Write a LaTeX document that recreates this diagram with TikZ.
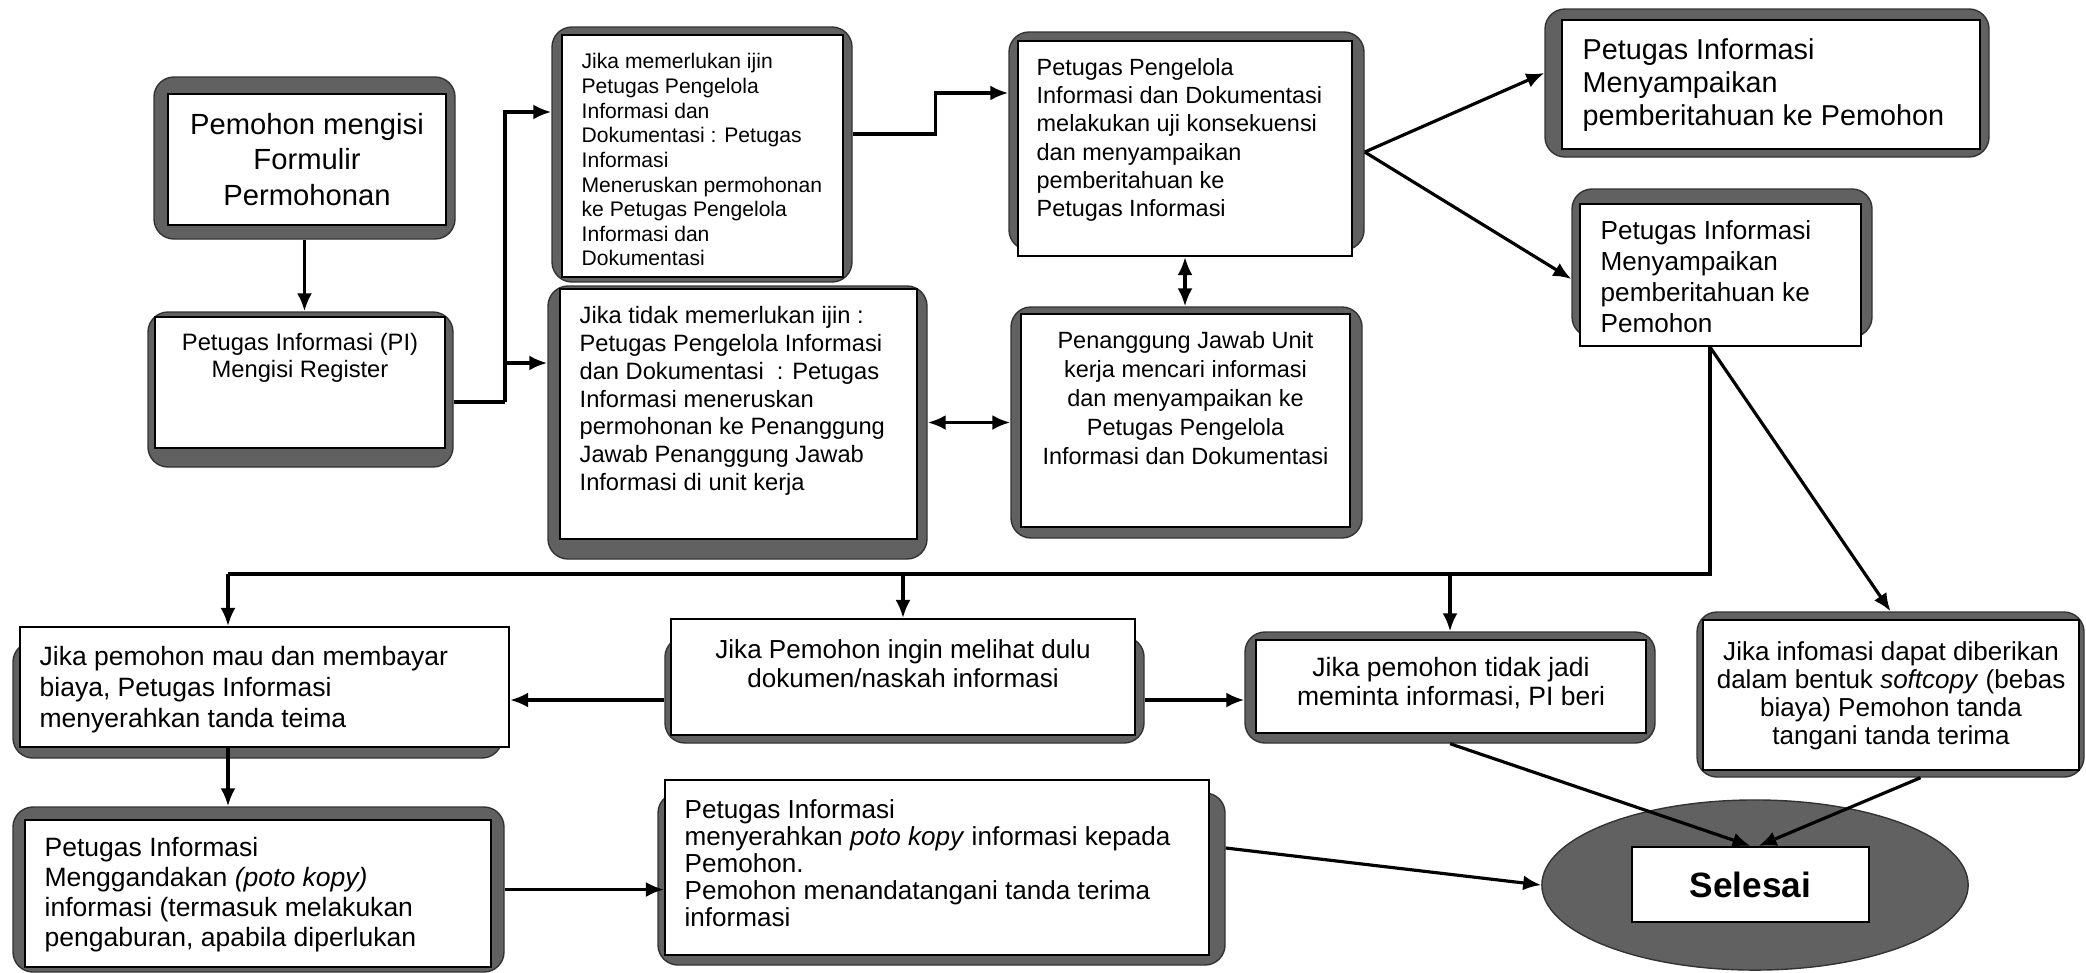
\documentclass[tikz,border=0pt]{standalone}
\usepackage{fontspec}
\setmainfont{Liberation Sans}
\usetikzlibrary{arrows.meta,fit,shapes.geometric,calc}
\tikzset{
	frm/.style={fill=black!62, draw=black!80, rounded corners=2mm, inner sep=0pt},
	wbox/.style={fill=white, draw=black, line width=0.6pt, inner sep=0pt},
	txt/.style={inner sep=0pt, align=center},
	fs/.style 2 args={font=\fontsize{#1}{#2}\selectfont},
	line/.style={line width=0.9pt},
	arr/.style={line, -{Latex[length=1.8mm,width=1.5mm]}},
	dbl/.style={line, {Latex[length=1.8mm,width=1.5mm]}-{Latex[length=1.8mm,width=1.5mm]}}
}

\begin{document}
\begin{tikzpicture}[x=0.01cm, y=-0.01cm]
		%%%%% START %%%%%
		\useasboundingbox (0,0) rectangle (2086,972);
		
		% dark frames
		\node[frm, fit={(154,77) (455,239)}] (formF) {};
		\node[frm, fit={(148,312) (453,467)}] (regF) {};
		\node[frm, fit={(552,27) (852,282)}] (ijinF) {};
		\node[frm, fit={(548,286) (927,559)}] (tanpaF) {};
		\node[frm, fit={(1009,32) (1364,250)}] (ujiF) {};
		\node[frm, fit={(1011,307) (1362,538)}] (unitF) {};
		\node[frm, fit={(1545,9) (1989,157)}] (infoaF) {};
		\node[frm, fit={(1572,189) (1872,337)}] (infobF) {};
		\node[frm, fit={(13,642) (502,758)}] (bayarF) {};
		\node[frm, fit={(665,637) (1144,743)}] (lihatF) {};
		\node[frm, fit={(1245,632) (1655,743)}] (batalF) {};
		\node[frm, fit={(1697,612) (2084,777)}] (softF) {};
		\node[frm, fit={(13,807) (504,972)}] (gandaF) {};
		\node[frm, fit={(658,793) (1225,965)}] (serahF) {};
		\node[frm, ellipse, minimum width=4.26cm, minimum height=1.7cm] (selesaiE) at (1755,885) {};
		
		% white boxes
		\node[wbox, fit={(168,94) (446,225)}] (form) {};
		\node[wbox, fit={(155,317) (445,448)}] (reg) {};
		\node[wbox, fit={(562,35) (843,277)}] (ijin) {};
		\node[wbox, fit={(560,289) (917,539)}] (tanpa) {};
		\node[wbox, fit={(1018,41) (1352,256)}] (uji) {};
		\node[wbox, fit={(1021,314) (1350,527)}] (unit) {};
		\node[wbox, fit={(1562,20) (1980,149)}] (infoa) {};
		\node[wbox, fit={(1580,204) (1861,346)}] (infob) {};
		\node[wbox, fit={(20,627) (509,747)}] (bayar) {};
		\node[wbox, fit={(671,619) (1135,735)}] (lihat) {};
		\node[wbox, fit={(1256,640) (1646,733)}] (batal) {};
		\node[wbox, fit={(1703,620) (2079,770)}] (soft) {};
		\node[wbox, fit={(25,820) (491,967)}] (ganda) {};
		\node[wbox, fit={(665,780) (1209,955)}] (serah) {};
		\node[wbox, fit={(1632,847) (1869,922)}] (selesai) {};
		
		% texts
		\node[txt, fs={8.3}{10}] (formT) at (form) {Pemohon mengisi\\Formulir\\Permohonan};
		\node[txt, fs={6.75}{7.7}, anchor=north] (regT) at ([yshift=-1.7mm]reg.north) {Petugas Informasi (PI)\\Mengisi Register};
		\node[txt, fs={6}{7}, align=left, anchor=north west] (ijinT) at ([shift={(2mm,-1.9mm)}]ijin.north west) {Jika memerlukan ijin\\Petugas Pengelola\\Informasi dan\\Dokumentasi : Petugas\\Informasi\\Meneruskan permohonan\\ke Petugas Pengelola\\Informasi dan\\Dokumentasi};
		\node[txt, fs={6.73}{7.9}, align=left, anchor=north west] (tanpaT) at ([shift={(2mm,-1.8mm)}]tanpa.north west) {Jika tidak memerlukan ijin :\\Petugas Pengelola Informasi\\dan Dokumentasi~~: Petugas\\Informasi meneruskan\\permohonan ke Penanggung\\Jawab Penanggung Jawab\\Informasi di unit kerja};
		\node[txt, fs={6.67}{8}, align=left, anchor=north west] (ujiT) at ([shift={(1.9mm,-1.8mm)}]uji.north west) {Petugas Pengelola\\Informasi dan Dokumentasi\\melakukan uji konsekuensi\\dan menyampaikan\\pemberitahuan ke\\Petugas Informasi};
		\node[txt, fs={6.68}{8.25}, anchor=north] (unitT) at ([yshift=-1.8mm]unit.north) {Penanggung Jawab Unit\\kerja mencari informasi\\dan menyampaikan ke\\Petugas Pengelola\\Informasi dan Dokumentasi};
		\node[txt, fs={8.18}{9.4}, align=left, anchor=north west] (infoaT) at ([shift={(2.1mm,-1.9mm)}]infoa.north west) {Petugas Informasi\\Menyampaikan\\pemberitahuan ke Pemohon};
		\node[txt, fs={7.43}{8.8}, align=left, anchor=north west] (infobT) at ([shift={(2.1mm,-1.7mm)}]infob.north west) {Petugas Informasi\\Menyampaikan\\pemberitahuan ke\\Pemohon};
		\node[txt, fs={7.54}{8.8}, align=left, anchor=north west] (bayarT) at ([shift={(2mm,-2mm)}]bayar.north west) {Jika pemohon mau dan membayar\\biaya, Petugas Informasi\\menyerahkan tanda teima};
		\node[txt, fs={7.41}{8.1}, anchor=north] (lihatT) at ([yshift=-2.1mm]lihat.north) {Jika Pemohon ingin melihat dulu\\dokumen/naskah informasi};
		\node[txt, fs={7.54}{8}, anchor=north] (batalT) at ([yshift=-1.8mm]batal.north) {Jika pemohon tidak jadi\\meminta informasi, PI beri};
		\node[txt, fs={7.4}{8}, anchor=north] (softT) at ([yshift=-2.2mm]soft.north) {Jika infomasi dapat diberikan\\dalam bentuk \textit{softcopy} (bebas\\biaya) Pemohon tanda\\tangani tanda terima};
		\node[txt, fs={7.54}{8.5}, align=left, anchor=north west] (gandaT) at ([shift={(2mm,-1.8mm)}]ganda.north west) {Petugas Informasi\\Menggandakan \textit{(poto kopy)}\\informasi (termasuk melakukan\\pengaburan, apabila diperlukan};
		\node[txt, fs={7.42}{7.7}, align=left, anchor=north west] (serahT) at ([shift={(2mm,-2mm)}]serah.north west) {Petugas Informasi\\menyerahkan \textit{poto kopy} informasi kepada\\Pemohon.\\Pemohon menandatangani tanda terima\\informasi};
		\node[txt, fs={9.1}{11}, font=\bfseries] (selesaiT) at (selesai) {Selesai};
		
		% connectors, upper part
		\draw[arr] (formF.south) -- (formF.south |- regF.north);
		\coordinate (split) at (505,402);
		\draw[line] (regF.east |- split) -- (split);
		\draw[arr] (split) |- ([yshift=0.425cm]ijinF.west);
		\draw[arr] (split) |- ([yshift=0.595cm]tanpaF.west);
		\draw[arr] ([yshift=0.205cm]ijinF.east) -- ++(83,0) |- ([yshift=0.48cm]ujiF.west);
		\draw[dbl] (uji.south) -- (uji.south |- unitF.north);
		\draw[dbl] (tanpaF.east) -- (unitF.west);
		\coordinate (fork) at ([yshift=-0.11cm]ujiF.east);
		\draw[arr] (fork) -- ([yshift=0.1cm]infoaF.west);
		\draw[arr] (fork) -- ([yshift=-0.16cm]infobF.west);
		
		% connectors, lower part
		\coordinate (busR) at (1710,574);
		\coordinate (busL) at (228,574);
		\draw[line] (infob.south -| busR) -- (busR) -- (busL);
		\draw[arr] (busL) -- (busL |- bayar.north);
		\draw[arr] (busL -| lihat.north) -- (lihat.north);
		\draw[arr] (busL -| batalF.north) -- (batalF.north);
		\draw[arr] (infob.south -| busR) -- (softF.north);
		\draw[arr] (lihatF.west |- bayarF.east) -- (bayar.east |- bayarF.east);
		\draw[arr] (lihatF.east |- bayarF.east) -- (batalF.west |- bayarF.east);
		\draw[arr] (bayar.south -| busL) -- (gandaF.north -| busL);
		\draw[arr] (gandaF.east) -- (serah.west |- gandaF.east);
		\draw[arr] ([yshift=0.31cm]serahF.east) -- (selesaiE.west);
		\draw[arr] (batalF.south) -- (selesai.north);
		\draw[arr] ([xshift=0.3cm]softF.south) -- ([xshift=0.08cm]selesai.north);
		
		%%%%% END %%%%%
	\end{tikzpicture}
\end{document}
